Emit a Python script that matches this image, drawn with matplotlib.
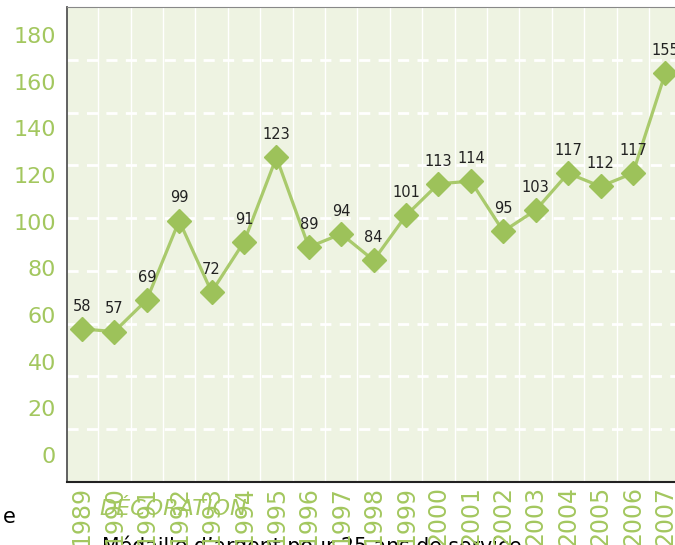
import matplotlib.pyplot as plt
import numpy as np

# data
years = ["1989", "1990", "1991", "1992", "1993", "1994", "1995", "1996", "1997", "1998",
         "1999", "2000", "2001", "2002", "2003", "2004", "2005", "2006", "2007"]
values = [58, 57, 69, 99, 72, 91, 123, 89, 94, 84, 101, 113, 114, 95, 103, 117, 112, 117, 155]
y_labels = [0, 20, 40, 60, 80, 100, 120, 140, 160, 180]

green = "#9dc25a"
line_green = "#a9ca6c"
text_green = "#a3c75f"
bg = "#eef3e2"

fig = plt.figure(figsize=(6.75, 5.45), dpi=100)
ax = fig.add_axes([0.0993, 0.1156, 0.932, 0.8716])
ax.set_facecolor(bg)

x = np.arange(len(years))
ax.plot(x, values, color=line_green, lw=2.3, marker="D", ms=12,
        markerfacecolor=green, markeredgecolor=green, zorder=3)
for xi, v in zip(x, values):
    ax.annotate(str(v), (xi, v), xytext=(0, 11), textcoords="offset points",
                ha="center", va="bottom", fontsize=10.5, color="#222222")

ax.set_xlim(-0.46, 18.95)
ax.set_ylim(0, 180)

# grid
ax.set_yticks(np.arange(20, 180, 20))
ax.yaxis.grid(True, color="white", lw=2, linestyle=(0, (4, 3)))
ax.set_xticks(np.arange(0.5, 18.6, 1), minor=True)
ax.xaxis.grid(True, which="minor", color="white", lw=1)
ax.set_axisbelow(True)
ax.tick_params(axis="y", length=0, labelleft=False)
ax.set_xticks(x)
ax.set_xticklabels(years, rotation=90, fontsize=17, color=text_green, va="top")
ax.tick_params(axis="x", which="both", length=0, pad=3)

ax.spines["left"].set_color("#555555")
ax.spines["left"].set_linewidth(1.3)
ax.spines["bottom"].set_color("#222222")
ax.spines["bottom"].set_linewidth(1.5)
ax.spines["top"].set_color("#888888")
ax.spines["right"].set_visible(False)

# y labels sit a bit off the grid in the original
lab = fig.add_axes(ax.get_position(), frameon=False)
lab.set_ylim(-11.6, 192)
lab.set_xticks([])
lab.set_yticks(y_labels)
lab.set_yticklabels([str(v) for v in y_labels], fontsize=16, color=text_green)
lab.tick_params(axis="y", length=0, pad=8)
lab.patch.set_alpha(0)

# text from the page around the chart
fig.text(0.148, 0.066, "DÉCORATION", fontsize=16, style="italic", color=text_green,
         ha="left", va="center")
fig.text(0.151, -0.015, "Médaille d\u2019argent pour 25 ans de service", fontsize=14.8,
         color="black", ha="left", va="baseline", zorder=-1)
fig.text(0.005, 0.052, "e", fontsize=15, color="black", ha="left", va="center")

fig.savefig("out.png", dpi=100)
